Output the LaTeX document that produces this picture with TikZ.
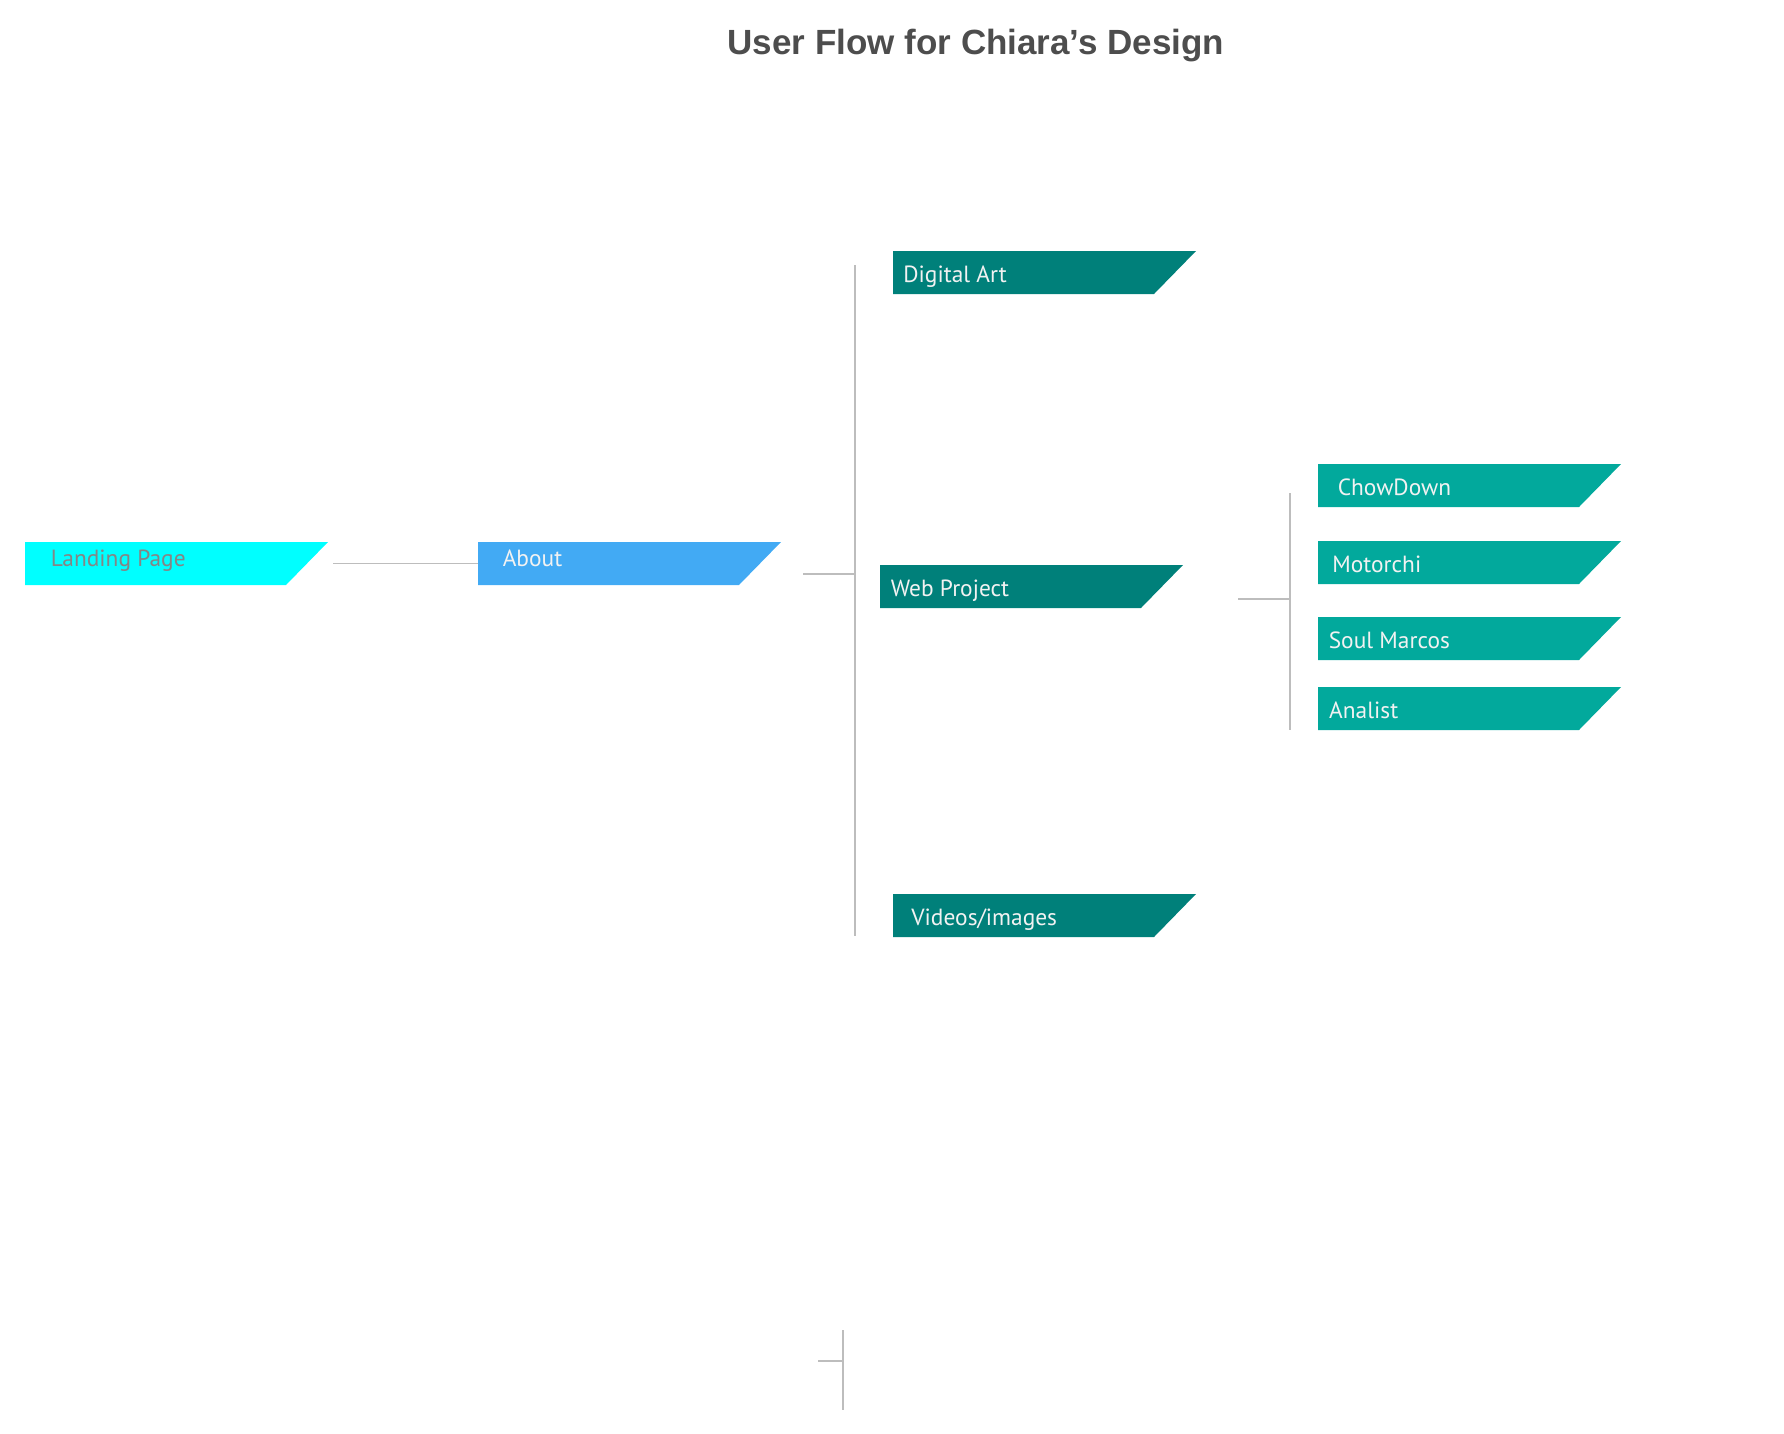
\documentclass[tikz,border=0pt]{standalone}
\usepackage{fontspec}
\setmainfont{PT Sans}
\newfontfamily\titlefont{Liberation Sans}
\definecolor{cyanbox}{HTML}{00FFFF}
\definecolor{aboutbox}{HTML}{42AAF4}
\definecolor{darkteal}{HTML}{00807A}
\definecolor{lightteal}{HTML}{02A99C}
\definecolor{linegray}{HTML}{BDBDBD}
\definecolor{titlegray}{HTML}{4D4D4D}
\definecolor{lbgray}{HTML}{858585}
\definecolor{lblwhite}{HTML}{F2F2F2}
\tikzset{
  boxshape/.style={minimum width=151.5pt, minimum height=21.5pt, inner sep=0pt, outer sep=0pt, anchor=north west},
  lbl/.style={inner sep=0pt, anchor=base west, font=\fontsize{11.7}{14}\selectfont},
  conn/.style={draw=linegray, line width=0.75pt},
}
% name, left x, top y, fill, text colour, inset (pt), baseline shift (pt), text
\newcommand\flowbox[8]{%
  \node[boxshape] (#1) at (#2,#3) {};
  \fill[#4] (#1.south west) -- (#1.north west) -- (#1.north east) -- ([xshift=-21pt]#1.south east) -- cycle;
  \node[lbl, text=#5] (#1-t) at ([xshift=#6, yshift=-#7]#1.west) {#8};
}
\begin{document}
\begin{tikzpicture}[x=0.5pt,y=-0.5pt]
\useasboundingbox (0,0) rectangle (1784,1434);
\node[font=\titlefont\bfseries\fontsize{17.5}{20}\selectfont, text=titlegray, inner sep=0pt] (title) at (976,46) {User Flow for Chiara’s Design};

\flowbox{land}{25}{542}{cyanbox}{lbgray}{12.7pt}{1.25pt}{Landing Page}
\flowbox{about}{478}{542}{aboutbox}{lblwhite}{12.2pt}{1.25pt}{About}
\flowbox{dig}{893}{251}{darkteal}{lblwhite}{5pt}{4.85pt}{Digital Art}
\flowbox{web}{880}{565}{darkteal}{lblwhite}{5.2pt}{4.85pt}{Web Project}
\flowbox{vid}{893}{894}{darkteal}{lblwhite}{9pt}{4.85pt}{Videos/images}
\flowbox{chow}{1318}{464}{lightteal}{lblwhite}{9.7pt}{4.85pt}{ChowDown}
\flowbox{moto}{1318}{541}{lightteal}{lblwhite}{7pt}{4.85pt}{Motorchi}
\flowbox{soul}{1318}{617}{lightteal}{lblwhite}{5.2pt}{4.85pt}{Soul Marcos}
\flowbox{anal}{1318}{687}{lightteal}{lblwhite}{5.4pt}{4.85pt}{Analist}

% connectors
\draw[conn] ([xshift=2.5pt]land.east) -- (about.west);
\coordinate (a1) at (803,574);
\coordinate (bus1top) at (855,265);
\coordinate (bus1bot) at (855,936);
\draw[conn] (a1) -- (a1 -| bus1top);
\draw[conn] (bus1top) -- (bus1bot);

\coordinate (w1) at (1238,599);
\coordinate (bus2top) at (1290,493);
\coordinate (bus2bot) at (1290,730);
\draw[conn] (w1) -- (w1 -| bus2top);
\draw[conn] (bus2top) -- (bus2bot);

\coordinate (b3top) at (843,1330);
\coordinate (b3bot) at (843,1410);
\coordinate (b3tick) at (818,1361);
\draw[conn] (b3top) -- (b3bot);
\draw[conn] (b3tick) -- (b3tick -| b3top);
\end{tikzpicture}
\end{document}
